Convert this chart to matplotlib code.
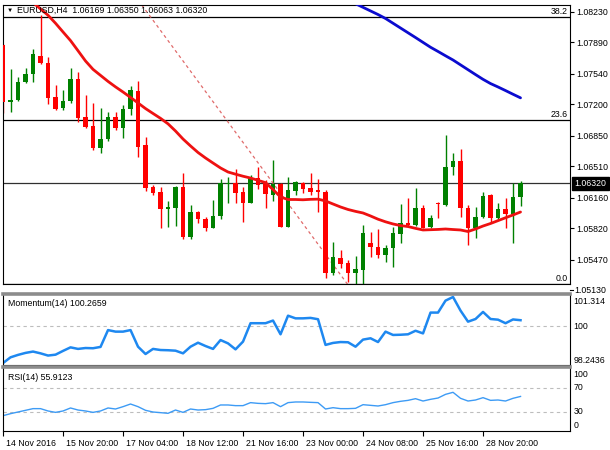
import matplotlib
matplotlib.use('Agg')
import matplotlib.pyplot as plt
from matplotlib.transforms import blended_transform_factory, ScaledTranslation

plt.rcParams['font.family'] = ['Liberation Sans', 'DejaVu Sans']

# ---------------- data ----------------
symbol = "EURUSD,H4"
opens = [1.07859,1.07222,1.07247,1.07451,1.07533,1.07740,1.07662,1.07284,1.07162,1.07236,
         1.07481,1.07055,1.06961,1.06717,1.06813,1.07055,1.06932,1.07144,1.07347,1.06747,
         1.06276,1.06227,1.06034,1.06042,1.06283,1.05726,1.06004,1.05920,1.05826,1.05957,
         1.06309,1.06320,1.06227,1.06105,1.06376,1.06320,1.06190,1.06309,1.05838,1.06235,
         1.06320,1.06265,1.06246,1.06227,1.05319,1.05486,1.05430,1.05326,1.05356,1.05653,
         1.05615,1.05523,1.05604,1.05756,1.05875,1.05856,1.06042,1.05831,1.06105,1.06079,
         1.06505,1.06569,1.06042,1.05820,1.05949,1.06190,1.05931,1.06031,1.05979,1.06169]
highs = [1.07870,1.07592,1.07507,1.07603,1.07811,1.08193,1.07722,1.07414,1.07359,1.07600,
         1.07562,1.07303,1.07217,1.07155,1.07117,1.07110,1.07192,1.07403,1.07459,1.06832,
         1.06302,1.06283,1.06127,1.06290,1.06432,1.06079,1.06012,1.05942,1.06135,1.06365,
         1.06387,1.06476,1.06283,1.06413,1.06505,1.06357,1.06580,1.06324,1.06387,1.06349,
         1.06338,1.06438,1.06365,1.06246,1.05671,1.05578,1.05467,1.05511,1.05856,1.05782,
         1.05809,1.05634,1.05838,1.06090,1.06153,1.06271,1.06079,1.05968,1.06116,1.06858,
         1.06661,1.06699,1.06079,1.06053,1.06227,1.06201,1.06098,1.06153,1.06327,1.06350]
lows = [1.07103,1.07114,1.07240,1.07440,1.07451,1.07653,1.07203,1.07136,1.07136,1.07211,
        1.06999,1.06941,1.06691,1.06661,1.06794,1.06913,1.06828,1.07080,1.06616,1.06235,
        1.06190,1.05820,1.05838,1.05845,1.05697,1.05701,1.05879,1.05793,1.05820,1.05920,
        1.06098,1.06105,1.05893,1.06098,1.06254,1.06049,1.06124,1.05834,1.05834,1.06190,
        1.06209,1.06190,1.06004,1.05263,1.05300,1.05375,1.05225,1.05189,1.05181,1.05497,
        1.05486,1.05448,1.05392,1.05653,1.05845,1.05845,1.05820,1.05820,1.05931,1.06068,
        1.06413,1.05949,1.05634,1.05708,1.05931,1.05893,1.05912,1.05820,1.05653,1.06063]
closes = [1.07228,1.07247,1.07451,1.07537,1.07756,1.07656,1.07266,1.07147,1.07240,1.07481,
          1.07044,1.06944,1.06717,1.06813,1.07061,1.06932,1.07147,1.07359,1.06728,1.06265,
          1.06209,1.06034,1.06053,1.06283,1.05726,1.06004,1.05920,1.05826,1.05957,1.06320,
          1.06320,1.06216,1.06105,1.06376,1.06302,1.06198,1.06309,1.05838,1.06246,1.06338,
          1.06254,1.06227,1.06227,1.05326,1.05497,1.05422,1.05326,1.05367,1.05764,1.05608,
          1.05523,1.05604,1.05764,1.05875,1.05856,1.06042,1.05826,1.05931,1.06090,1.06505,
          1.06569,1.06042,1.05820,1.05949,1.06182,1.05931,1.06031,1.05979,1.06171,1.06320]

red_ma = [1.08616,1.08545,1.08471,1.08405,1.08332,1.08260,1.08190,1.08101,1.08004,1.07908,
          1.07795,1.07681,1.07588,1.07521,1.07454,1.07393,1.07336,1.07276,1.07214,1.07152,
          1.07097,1.07043,1.06982,1.06902,1.06813,1.06736,1.06663,1.06602,1.06546,1.06491,
          1.06446,1.06422,1.06399,1.06379,1.06353,1.06328,1.06251,1.06168,1.06140,1.06140,
          1.06137,1.06142,1.06144,1.06124,1.06090,1.06057,1.06029,1.06008,1.05990,1.05957,
          1.05921,1.05892,1.05868,1.05850,1.05839,1.05819,1.05801,1.05804,1.05807,1.05812,
          1.05806,1.05801,1.05784,1.05812,1.05845,1.05873,1.05905,1.05937,1.05968,1.06001]

blue_ma_start = 46
blue_ma = [1.08371,1.08318,1.08278,1.08238,1.08198,1.08154,1.08101,1.08048,1.07995,1.07942,
           1.07888,1.07834,1.07787,1.07739,1.07692,1.07638,1.07584,1.07530,1.07477,1.07430,
           1.07392,1.07352,1.07311,1.07271]

trend_bars = [18.5, 46.0]
trend_prices = [1.08304, 1.05190]

fib_names = ["0.0", "23.6", "38.2"]
fib_prices = [1.05200, 1.07025, 1.08171]

price_ticks = [1.08230, 1.07890, 1.07540, 1.07200, 1.06850, 1.06510, 1.06160, 1.05820, 1.05470, 1.05130]

momentum = [98.33,98.59,98.70,98.79,98.85,98.77,98.67,98.71,98.88,99.04,
            98.97,99.01,99.00,99.06,99.82,99.75,99.75,99.82,99.07,98.74,
            98.97,98.92,98.91,98.89,98.77,99.07,99.25,99.10,98.97,99.37,
            99.22,98.95,99.30,100.13,100.13,100.13,100.25,99.63,100.47,100.35,
            100.35,100.37,100.31,99.15,99.24,99.28,99.27,99.07,99.39,99.45,
            99.28,99.75,99.60,99.61,99.63,99.79,99.67,100.61,100.61,101.15,
            101.314,100.70,100.20,100.32,100.64,100.32,100.29,100.13,100.30,100.2659]
mom_max, mom_mid, mom_min = 101.314, 100.0, 98.2436

rsi = [23.9,27.2,30.0,32.8,35.6,35.6,31.7,29.4,31.7,36.7,
       33.3,31.7,29.4,31.7,36.7,35.0,38.9,43.3,38.9,32.8,
       30.0,28.9,27.8,33.3,29.4,35.0,33.3,33.9,36.1,41.7,
       41.7,40.6,40.6,45.6,44.4,43.9,45.6,38.9,45.6,46.7,
       46.7,46.1,45.6,35.0,37.2,35.6,35.6,36.1,42.2,41.1,
       40.0,42.2,45.6,47.8,49.4,52.2,48.3,51.1,53.3,59.4,
       62.8,52.8,48.3,50.0,53.9,49.4,50.0,48.3,52.8,55.9123]
rsi_levels = [70, 30]
rsi_labels = [100, 70, 30, 0]

date_ticks = [0, 8, 16, 24, 32, 40, 48, 56, 64]
date_labels = ["14 Nov 2016", "15 Nov 20:00", "17 Nov 04:00", "18 Nov 12:00", "21 Nov 16:00",
               "23 Nov 00:00", "24 Nov 08:00", "25 Nov 16:00", "28 Nov 20:00"]

# ---------------- layout ----------------
W, H = 610, 450
FS = 6.3
fig = plt.figure(figsize=(W / 100, H / 100), dpi=100)
fig.patch.set_facecolor('white')

def px_axes(l, t, r, b):
    return fig.add_axes([l / W, 1 - b / H, (r - l) / W, (b - t) / H])

ax = px_axes(2.5, 5, 569.5, 284)
axm = px_axes(2.5, 294, 569.5, 365)
axr = px_axes(2.5, 367, 569.5, 431)

XL, XR = -0.07, 75.53
n = len(closes)
xs = list(range(n))

BULL = '#008000'
BEAR = '#FF0000'

for a in (ax, axm, axr):
    a.set_xlim(XL, XR)
    a.set_facecolor('white')
    for s in a.spines.values():
        s.set_color('black')
        s.set_linewidth(0.8)
for a in (axm, axr):
    a.spines['top'].set_color('#8c8c8c')
    a.spines['top'].set_linewidth(2.6)

# ---- main price panel ----
ax.set_ylim(1.05200, 1.08304)
cols = [BULL if c >= o else BEAR for o, c in zip(opens, closes)]
ax.vlines(xs, lows, highs, colors=cols, linewidth=1.0, zorder=2)
min_h = 0.00009
bottoms, heights = [], []
for o, c in zip(opens, closes):
    lo, hi = min(o, c), max(o, c)
    if hi - lo < min_h:
        mid = (hi + lo) / 2
        lo, hi = mid - min_h / 2, mid + min_h / 2
    bottoms.append(lo)
    heights.append(hi - lo)
ax.bar(xs, heights, bottom=bottoms, width=0.64, color=cols, linewidth=0, zorder=3)

for name, p in zip(fib_names, fib_prices):
    ax.axhline(p, color='black', linewidth=0.9, zorder=1)
    ax.annotate(name, xy=(1.0, p), xycoords=blended_transform_factory(ax.transAxes, ax.transData),
                xytext=(-1.5, 1), textcoords='offset pixels', ha='right', va='bottom',
                fontsize=FS, color='black')

ax.axhline(closes[-1], color='#303030', linewidth=0.9, zorder=1)

ax.plot(trend_bars, trend_prices, color='#e06a6a', linestyle=(0, (2.5, 2.5)), linewidth=0.9, zorder=2)
ax.plot(xs, red_ma, color='#ee1111', linewidth=2.0, zorder=4, solid_capstyle='round')
ax.plot(list(range(blue_ma_start, blue_ma_start + len(blue_ma))), blue_ma,
        color='#0b0bcf', linewidth=2.0, zorder=4, solid_capstyle='round')

ax.set_xticks([])
ax.yaxis.tick_right()
vis = [t for t in price_ticks if 1.05200 <= t <= 1.08304]
ax.set_yticks(vis)
ax.set_yticklabels([f"{t:.5f}" for t in vis])
ax.tick_params(axis='y', direction='out', length=3, width=0.8, pad=2, labelsize=FS)
trans_ax = blended_transform_factory(ax.transAxes, ax.transData)
for t in price_ticks:
    if t < 1.05200:
        ax.annotate(f"{t:.5f}", xy=(1.0, t), xycoords=trans_ax, xytext=(5, 0),
                    textcoords='offset pixels', ha='left', va='center', fontsize=FS,
                    annotation_clip=False)
        ax.plot([1.0, 1.0 + 3 / 567], [t, t], transform=trans_ax, color='black',
                linewidth=0.8, clip_on=False)

ax.annotate(f"{closes[-1]:.5f}", xy=(1.0, closes[-1]), xycoords=trans_ax, xytext=(5, 0),
            textcoords='offset pixels', ha='left', va='center', fontsize=FS, color='white',
            annotation_clip=False,
            bbox=dict(boxstyle='square,pad=0.25', facecolor='black', edgecolor='black'))

fig.text(7 / W, 1 - 10.5 / H, '\u25bc', fontsize=4.5, ha='left', va='center', color='black')
fig.text(17 / W, 1 - 10.5 / H,
         f"{symbol}  {opens[-1]:.5f} {highs[-1]:.5f} {lows[-1]:.5f} {closes[-1]:.5f}",
         fontsize=FS, ha='left', va='center', color='black')

# ---- momentum panel ----
axm.set_ylim(mom_min, 101.449)
axm.axhline(mom_mid, color='#bdbdbd', linestyle=(0, (3, 3)), linewidth=0.8)
axm.plot(xs, momentum, color='#1e88f0', linewidth=1.8, solid_joinstyle='round')
axm.set_xticks([])
axm.set_yticks([])
tm = blended_transform_factory(axm.transAxes, axm.transData)
for v, va, txt in [(mom_max, 'top', f"{mom_max:g}"), (mom_mid, 'center', f"{mom_mid:g}"),
                   (mom_min, 'bottom', f"{mom_min:g}")]:
    axm.annotate(txt, xy=(1.0, v), xycoords=tm, xytext=(4, 0), textcoords='offset pixels',
                 ha='left', va=va, fontsize=FS, annotation_clip=False)
axm.text(5 / 567, 1 - 10 / 71, f"Momentum(14) {momentum[-1]:.4f}", transform=axm.transAxes,
         fontsize=FS, ha='left', va='center')

# ---- RSI panel ----
axr.set_ylim(-1.67, 105)
for lv in rsi_levels:
    axr.axhline(lv, color='#bdbdbd', linestyle=(0, (3, 3)), linewidth=0.8)
axr.plot(xs, rsi, color='#3d9bf5', linewidth=1.0)
axr.set_yticks([])
tr = blended_transform_factory(axr.transAxes, axr.transData)
for v in rsi_labels:
    va = 'top' if v == 100 else ('bottom' if v == 0 else 'center')
    axr.annotate(str(v), xy=(1.0, v), xycoords=tr, xytext=(4, 0), textcoords='offset pixels',
                 ha='left', va=va, fontsize=FS, annotation_clip=False)
axr.text(5 / 567, 1 - 11 / 64, f"RSI(14) {rsi[-1]:.4f}", transform=axr.transAxes,
         fontsize=FS, ha='left', va='center')

axr.set_xticks(date_ticks)
axr.set_xticklabels(date_labels)
axr.tick_params(axis='x', direction='out', length=3.5, width=0.8, pad=2.5, labelsize=FS)
off = ScaledTranslation(2 / 72, 0, fig.dpi_scale_trans)
for lab in axr.get_xticklabels():
    lab.set_horizontalalignment('left')
    lab.set_transform(lab.get_transform() + off)

fig.savefig('out.png', dpi=100, facecolor='white')
